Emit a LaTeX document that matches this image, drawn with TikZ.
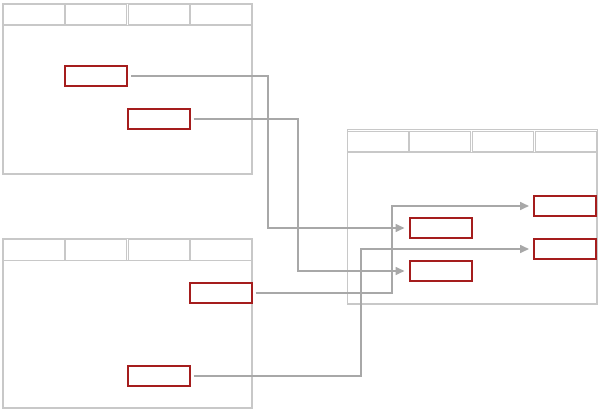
\documentclass[tikz,border=0pt]{standalone}
\usetikzlibrary{arrows.meta}
\definecolor{panelgray}{HTML}{C8C8C8}
\definecolor{linkgray}{HTML}{A8A8A8}
\definecolor{boxred}{HTML}{A51D1D}
\begin{document}
\begin{tikzpicture}[x=1pt,y=-1pt,
  panel/.style={draw=panelgray,line width=0.9pt,rectangle,inner sep=0pt},
  cell/.style={draw=panelgray,line width=0.9pt,rectangle,inner sep=0pt,minimum width=61pt,minimum height=20.5pt},
  rbox/.style={draw=boxred,line width=2pt,rectangle,inner sep=0pt,minimum width=62pt,minimum height=20.5pt,fill=white},
  link/.style={draw=linkgray,line width=1.6pt,shorten <=3pt},
  linkarrow/.style={link,-{Triangle[length=9pt,width=8pt]},shorten >=4pt}]
\useasboundingbox (0,0) rectangle (602,414);
% panel 1 (top left)
\node[panel,minimum width=250pt,minimum height=171pt] (p1) at (127,88.5) {};
\node[panel,minimum width=248pt,minimum height=148pt] (p1b) at (127,99) {};
\foreach \i in {0,1,2,3} \node[cell] (p1c\i) at ({33.8+62.4*\i},14.5) {};
% panel 2 (bottom left)
\node[panel,minimum width=250pt,minimum height=170pt] (p2) at (127,323) {};
\node[panel,minimum width=248pt,minimum height=147pt] (p2b) at (127,333.5) {};
\foreach \i in {0,1,2,3} \node[cell] (p2c\i) at ({33.8+62.4*\i},250) {};
% panel 3 (right)
\node[panel,minimum width=250pt,minimum height=175pt] (p3) at (472,216.5) {};
\node[panel,minimum width=249pt,minimum height=151pt] (p3b) at (471.8,227.5) {};
\foreach \i in {0,1,2,3} \node[cell] (p3c\i) at ({377.8+62.6*\i},141.5) {};
% red boxes
\node[rbox] (b1) at (96,76) {};
\node[rbox] (b2) at (158.5,119) {};
\node[rbox] (e) at (220.5,293) {};
\node[rbox] (f) at (158.5,376) {};
\node[rbox] (a) at (440.5,228) {};
\node[rbox] (b) at (440.5,271) {};
\node[rbox] (c) at (565,206) {};
\node[rbox] (d) at (565,249) {};
% bend columns
\coordinate (k1) at (268,0);
\coordinate (k2) at (298,0);
\coordinate (k3) at (392,0);
\coordinate (k4) at (361,0);
% connectors
\draw[linkarrow] (b1.east) -- (b1.east -| k1) |- (a.west);
\draw[linkarrow] (b2.east) -- (b2.east -| k2) |- (b.west);
\draw[linkarrow] (e.east) -- (e.east -| k3) |- (c.west);
\draw[linkarrow] (f.east) -- (f.east -| k4) |- (d.west);
\end{tikzpicture}
\end{document}
